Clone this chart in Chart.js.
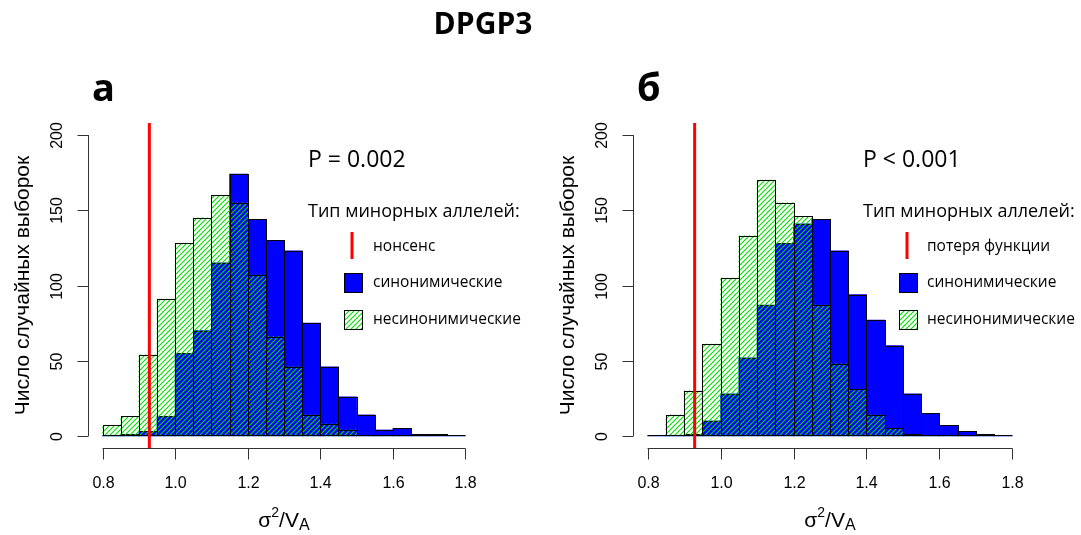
<!DOCTYPE html>
<html>
<head>
<meta charset="utf-8">
<script src="https://cdn.jsdelivr.net/npm/chart.js@4"></script>
<style>
  html, body { margin: 0; padding: 0; background: #fff; }
  #wrap { position: relative; width: 1081px; height: 535px; overflow: hidden; }
  canvas { position: absolute; top: 0; }
</style>
</head>
<body>
<div id="wrap">
  <canvas id="chartA" width="545" height="535" style="left:0"></canvas>
  <canvas id="chartB" width="536" height="535" style="left:545px"></canvas>
</div>
<script>
// bins of width 0.05 from 0.8 to 1.8
const binStarts = [0.80, 0.85, 0.90, 0.95, 1.00, 1.05, 1.10, 1.15, 1.20, 1.25,
                   1.30, 1.35, 1.40, 1.45, 1.50, 1.55, 1.60, 1.65, 1.70, 1.75];
const binWidth = 0.05;

// panel а (нонсенс)
const synA    = [0, 1, 3, 13, 55, 70, 115, 174, 144, 130, 123, 75, 46, 26, 14, 4, 5, 1, 1, 0];
const nonsynA = [7, 13, 54, 91, 128, 145, 160, 155, 107, 66, 46, 14, 8, 4, 0, 0, 0, 0, 0, 0];
const observedA = 0.929;

// panel б (потеря функции)
const synB    = [0, 0, 1, 10, 28, 52, 87, 128, 141, 144, 123, 94, 77, 60, 28, 15, 7, 3, 1, 0];
const nonsynB = [0, 14, 30, 61, 105, 133, 170, 155, 146, 87, 48, 31, 14, 5, 1, 0, 0, 0, 0, 0];
const observedB = 0.929;

const xTicks = [0.8, 1.0, 1.2, 1.4, 1.6, 1.8];
const yTicks = [0, 50, 100, 150, 200];

const SANS = '"Open Sans", "DejaVu Sans", sans-serif';
const ARIAL = '"Liberation Sans", Arial, sans-serif';

function hatch(ctx, step) {
  const c = document.createElement('canvas');
  c.width = c.height = step;
  const g = c.getContext('2d');
  g.strokeStyle = '#00e000';
  g.lineWidth = 1.1;
  g.beginPath();
  g.moveTo(0, step); g.lineTo(step, 0);
  g.moveTo(-1, 1); g.lineTo(1, -1);
  g.moveTo(step - 1, step + 1); g.lineTo(step + 1, step - 1);
  g.stroke();
  return ctx.createPattern(c, 'repeat');
}

function line(ctx, x1, y1, x2, y2) {
  ctx.beginPath();
  ctx.moveTo(x1, y1);
  ctx.lineTo(x2, y2);
  ctx.stroke();
}

function overlay(p) {
  return {
    id: 'rOverlay',
    // R-style outlines: one 1px line per shared edge
    afterDatasetDraw(chart, args) {
      const ctx = chart.ctx;
      ctx.save();
      ctx.strokeStyle = '#000';
      ctx.lineWidth = 1;
      args.meta.data.forEach((bar, i) => {
        if (!chart.data.datasets[args.index].data[i].y) return;
        const l = Math.round(bar.x - bar.width / 2) + 0.5;
        const r = Math.round(bar.x + bar.width / 2) + 0.5;
        const t = Math.round(bar.y) + 0.5;
        const b = Math.round(bar.base) - 0.5;
        ctx.strokeRect(l, t, r - l, b - t);
      });
      ctx.restore();
    },
    afterDatasetsDraw(chart) {
      const ctx = chart.ctx, a = chart.chartArea;
      const x = chart.scales.x, y = chart.scales.y;
      ctx.save();
      // zero line of the empty bins
      ctx.strokeStyle = '#000';
      ctx.lineWidth = 1;
      const y0 = Math.round(y.getPixelForValue(0)) - 0.5;
      line(ctx, x.getPixelForValue(binStarts[0]), y0,
           x.getPixelForValue(binStarts[binStarts.length - 1] + binWidth), y0);
      // observed value
      ctx.strokeStyle = '#ff0000';
      ctx.lineWidth = 3;
      const xo = x.getPixelForValue(p.observed);
      line(ctx, xo, a.top, xo, a.bottom);
      ctx.restore();
    },
    afterDraw(chart) {
      const ctx = chart.ctx, a = chart.chartArea;
      const x = chart.scales.x, y = chart.scales.y;
      ctx.save();
      ctx.strokeStyle = '#333';
      ctx.lineWidth = 1;
      ctx.fillStyle = '#000';

      // x axis
      const xb = a.bottom + 0.5;
      line(ctx, x.getPixelForValue(xTicks[0]), xb, x.getPixelForValue(xTicks[xTicks.length - 1]), xb);
      ctx.font = '16px ' + ARIAL;
      ctx.textAlign = 'center';
      ctx.textBaseline = 'alphabetic';
      xTicks.forEach(v => {
        const px = Math.round(x.getPixelForValue(v)) + 0.5;
        line(ctx, px, xb, px, xb + 11);
        ctx.fillText(v.toFixed(1), px, 488);
      });

      // y axis
      const yl = a.left + 0.5;
      line(ctx, yl, y.getPixelForValue(yTicks[0]), yl, y.getPixelForValue(yTicks[yTicks.length - 1]));
      yTicks.forEach(v => {
        const py = Math.round(y.getPixelForValue(v)) + 0.5;
        line(ctx, yl, py, yl - 11, py);
        ctx.save();
        ctx.translate(62, py);
        ctx.rotate(-Math.PI / 2);
        ctx.fillText(String(v), 0, 0);
        ctx.restore();
      });

      // axis titles
      ctx.save();
      ctx.font = '21px ' + ARIAL;
      ctx.translate(23, (y.getPixelForValue(0) + y.getPixelForValue(200)) / 2);
      ctx.rotate(-Math.PI / 2);
      ctx.textBaseline = 'middle';
      ctx.fillText('Число случайных выборок', 0, 0);
      ctx.restore();

      const parts = [['σ', 21, 0], ['2', 14, -10], ['/V', 21, 0], ['A', 16, 3]];
      let total = 0;
      parts.forEach(q => { ctx.font = q[1] + 'px ' + ARIAL; total += ctx.measureText(q[0]).width; });
      let cx = x.getPixelForValue(1.3) - total / 2;
      ctx.textAlign = 'left';
      parts.forEach(q => {
        ctx.font = q[1] + 'px ' + ARIAL;
        ctx.fillText(q[0], cx, 527 + q[2]);
        cx += ctx.measureText(q[0]).width;
      });

      // title and panel letter
      if (p.title) {
        ctx.font = 'bold 30px ' + SANS;
        ctx.textAlign = 'center';
        ctx.fillText(p.title, 483, 34);
      }
      ctx.textAlign = 'left';
      ctx.font = 'bold 38px ' + SANS;
      ctx.fillText(p.letter, 92, 101);

      // P value
      ctx.font = '23px ' + SANS;
      ctx.fillText(p.pText, p.textX, 167);

      // legend
      ctx.font = '18px ' + SANS;
      ctx.fillText('Тип минорных аллелей:', p.textX, 217);
      ctx.font = '15.5px ' + SANS;
      ctx.textBaseline = 'middle';
      ctx.strokeStyle = '#ff0000';
      ctx.lineWidth = 3;
      line(ctx, p.keyX + 8, 232, p.keyX + 8, 259);
      ctx.fillText(p.lossLabel, p.labelX, 247);

      ctx.fillStyle = '#0000ff';
      ctx.fillRect(p.keyX, 273, 18, 19);
      ctx.strokeStyle = '#000';
      ctx.lineWidth = 1;
      ctx.strokeRect(p.keyX + 0.5, 273.5, 18, 19);
      ctx.fillStyle = '#000';
      ctx.fillText('синонимические', p.labelX, 283);

      ctx.fillStyle = p.pattern;
      ctx.fillRect(p.keyX, 310, 18, 19);
      ctx.strokeRect(p.keyX + 0.5, 310.5, 18, 19);
      ctx.fillStyle = '#000';
      ctx.fillText('несинонимические', p.labelX, 320);
      ctx.restore();
    }
  };
}

function makeChart(id, syn, nonsyn, p) {
  const canvas = document.getElementById(id);
  const pattern = hatch(canvas.getContext('2d'), 5);
  p.pattern = pattern;
  const centers = binStarts.map(s => s + binWidth / 2);
  return new Chart(canvas, {
    type: 'bar',
    data: {
      datasets: [
        {
          label: 'несинонимические',
          data: centers.map((c, i) => ({ x: c, y: nonsyn[i] })),
          backgroundColor: pattern,
          borderWidth: 0,
          grouped: false,
          order: 0
        },
        {
          label: 'синонимические',
          data: centers.map((c, i) => ({ x: c, y: syn[i] })),
          backgroundColor: '#0000ff',
          borderWidth: 0,
          grouped: false,
          order: 1
        }
      ]
    },
    options: {
      responsive: false,
      animation: false,
      events: [],
      layout: { padding: { left: 88, right: p.padRight, top: 123, bottom: 87 } },
      datasets: { bar: { categoryPercentage: 1, barPercentage: 1 } },
      plugins: { legend: { display: false }, tooltip: { enabled: false }, title: { display: false } },
      scales: {
        x: {
          type: 'linear', min: 0.76, max: 1.84, offset: false, display: false,
          afterBuildTicks: s => { s.ticks = xTicks.map(v => ({ value: v })); }
        },
        y: {
          type: 'linear', min: -8, max: 208, display: false,
          afterBuildTicks: s => { s.ticks = yTicks.map(v => ({ value: v })); }
        }
      }
    },
    plugins: [overlay(p)]
  });
}

makeChart('chartA', synA, nonsynA, {
  title: 'DPGP3', letter: 'а', pText: 'P = 0.002', lossLabel: 'нонсенс',
  observed: observedA, padRight: 65, textX: 308, keyX: 344, labelX: 373
});
makeChart('chartB', synB, nonsynB, {
  letter: 'б', pText: 'P < 0.001', lossLabel: 'потеря функции',
  observed: observedB, padRight: 54, textX: 318, keyX: 354, labelX: 382
});
</script>
</body>
</html>
